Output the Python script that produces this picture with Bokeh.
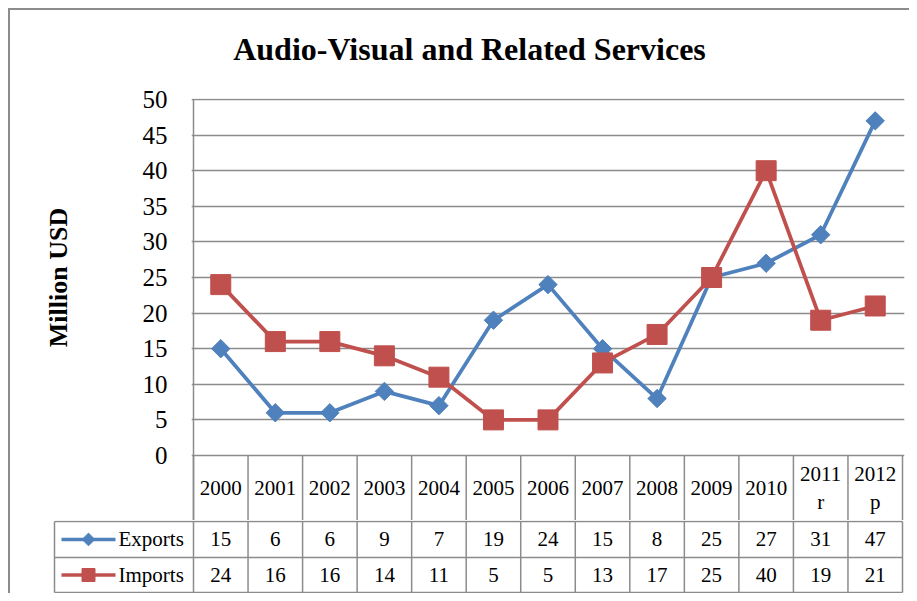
import math
from bokeh.plotting import figure
from bokeh.layouts import column, row
from bokeh.models import Range1d, FixedTicker
from bokeh.core.properties import value
from bokeh.embed import file_html
from bokeh.resources import INLINE

# ---- data ----
years = ["2000", "2001", "2002", "2003", "2004", "2005", "2006", "2007",
         "2008", "2009", "2010", "2011\nr", "2012\np"]
exports = [15, 6, 6, 9, 7, 19, 24, 15, 8, 25, 27, 31, 47]
imports = [24, 16, 16, 14, 11, 5, 5, 13, 17, 25, 40, 19, 21]
series_names = ["Exports", "Imports"]
y_ticks = [0, 5, 10, 15, 20, 25, 30, 35, 40, 45, 50]
title_text = "Audio-Visual and Related Services"
y_title = "Million USD"

# ---- style / layout (page pixel positions) ----
BLUE = "#4F81BD"
RED = "#C0504D"
GRID = "#8c8c8c"
FONT = "Liberation Serif"

W = 901
n = len(years)
page_x0, page_y0 = 8, 8
title_bottom = 78
label_right = 88
plot_left, plot_right = 193, 902
col_w = (plot_right - plot_left) / n
frame_top = 98
zero_y = 455
top_y = 99
header_bottom = 520
table_bottom = 593
legend_left = 54
pad = 2
px_per_unit = (zero_y - top_y) / 50.0
y_min = -(header_bottom - zero_y) / px_per_unit
y_max = 50 + (top_y - frame_top) / px_per_unit


def blank_fig(w, h):
    f = figure(width=w, height=h, x_range=Range1d(0, w), y_range=Range1d(h, 0),
               output_backend="svg", toolbar_location=None, frame_align=False,
               x_axis_location=None, y_axis_location=None,
               min_border_left=0, min_border_right=0, min_border_top=0, min_border_bottom=0)
    f.outline_line_color = None
    f.border_fill_color = None
    f.background_fill_color = None
    f.grid.visible = False
    return f


# ---- title ----
T = title_bottom - page_y0
title_fig = blank_fig(W, T)
title_fig.text(x=[469 - page_x0], y=[48 - page_y0], text=[title_text], text_font=value(FONT),
               text_font_size="32px", text_font_style="bold", text_align="center",
               text_baseline="middle", text_color="black")

# ---- y-axis title ----
CH = header_bottom - title_bottom
L = label_right - page_x0
label_fig = blank_fig(L, CH)
label_fig.text(x=[58 - page_x0], y=[(zero_y + top_y) / 2 - title_bottom], text=[y_title],
               angle=math.pi / 2, text_font=value(FONT), text_font_size="26px",
               text_font_style="bold", text_align="center", text_baseline="middle",
               text_color="black")

# ---- chart ----
chart = figure(width=W - L, height=CH,
               x_range=Range1d(-pad / col_w, n + pad / col_w),
               y_range=Range1d(y_min, y_max),
               output_backend="svg", toolbar_location=None,
               x_axis_location=None, frame_align=False,
               min_border_left=plot_left - pad - label_right,
               min_border_right=page_x0 + W - (plot_right + pad),
               min_border_top=frame_top - title_bottom, min_border_bottom=0)
chart.outline_line_color = None
chart.border_fill_color = None
chart.xgrid.visible = False
chart.ygrid.ticker = FixedTicker(ticks=y_ticks)
chart.ygrid.grid_line_color = GRID
chart.ygrid.grid_line_width = 1.3

ax = chart.yaxis[0]
ax.ticker = FixedTicker(ticks=y_ticks)
ax.axis_line_color = None
ax.major_tick_line_color = None
ax.minor_tick_line_color = None
ax.major_label_text_font = FONT
ax.major_label_text_font_size = "25px"
ax.major_label_text_color = "black"
ax.major_label_standoff = 18

xs = [i + 0.5 for i in range(n)]
edges = list(range(n + 1))

# left axis line & header row lines
chart.segment(x0=[0], y0=[y_min], x1=[0], y1=[50], line_color=GRID, line_width=1.5)
chart.segment(x0=edges, y0=[0] * len(edges), x1=edges, y1=[y_min] * len(edges),
              line_color=GRID, line_width=1.5)
chart.text(x=xs, y=[y_min / 2] * n, text=years, text_font=value(FONT),
           text_font_size="21px", text_align="center", text_baseline="middle",
           text_color="black", text_line_height=1.2)

# series
chart.line(xs, exports, line_color=BLUE, line_width=3.75)
chart.scatter(xs, exports, marker="square", angle=math.pi / 4, size=13,
              fill_color=BLUE, line_color=BLUE)
chart.line(xs, imports, line_color=RED, line_width=3.75)
chart.scatter(xs, imports, marker="square", size=20, fill_color=RED, line_color=RED)

# ---- data table ----
table_h = table_bottom - header_bottom
row_edges = [0, 37, table_h]
tbl = figure(width=W, height=table_h,
             x_range=Range1d(-(plot_left - legend_left + pad) / col_w, n + pad / col_w),
             y_range=Range1d(table_h + 1, -1),
             output_backend="svg", toolbar_location=None,
             x_axis_location=None, y_axis_location=None, frame_align=False,
             min_border_left=legend_left - pad - page_x0,
             min_border_right=page_x0 + W - (plot_right + pad),
             min_border_top=0, min_border_bottom=0)
tbl.outline_line_color = None
tbl.border_fill_color = None
tbl.grid.visible = False

x_leg = (legend_left - plot_left) / col_w
tbl.segment(x0=[x_leg] * 3, y0=row_edges, x1=[n] * 3, y1=row_edges,
            line_color=GRID, line_width=1.5)
vx = [x_leg] + edges
tbl.segment(x0=vx, y0=[0] * len(vx), x1=vx, y1=[table_h] * len(vx),
            line_color=GRID, line_width=1.5)

colors = [BLUE, RED]
angles = [math.pi / 4, 0]
msizes = [9, 13]
for r, (name, vals) in enumerate(zip(series_names, [exports, imports])):
    yc = (row_edges[r] + row_edges[r + 1]) / 2
    tbl.text(x=xs, y=[yc] * n, text=[str(v) for v in vals], text_font=value(FONT),
             text_font_size="21px", text_align="center", text_baseline="middle",
             text_color="black")
    tbl.segment(x0=[(61 - plot_left) / col_w], y0=[yc], x1=[(115 - plot_left) / col_w],
                y1=[yc], line_color=colors[r], line_width=3.5)
    tbl.scatter(x=[(88 - plot_left) / col_w], y=[yc], marker="square", angle=angles[r],
                size=msizes[r], fill_color=colors[r], line_color=colors[r])
    tbl.text(x=[(118 - plot_left) / col_w], y=[yc], text=[name], text_font=value(FONT),
             text_font_size="21px", text_align="left", text_baseline="middle",
             text_color="black")

layout = column(title_fig, row(label_fig, chart), tbl,
                styles={"margin": "8px 0 0 8px",
                        "box-shadow": "inset 2px 2px 0 0 #8c8c8c"})

open("out.html", "w").write(file_html(layout, INLINE))
